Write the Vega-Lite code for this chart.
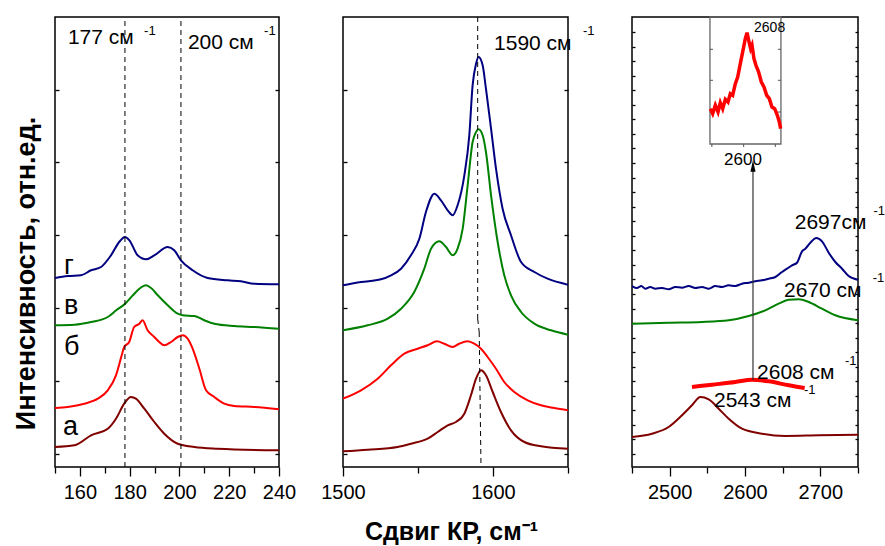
{
"$schema": "https://vega.github.io/schema/vega-lite/v6.json",
"background": "white",
"padding": {"left": 11, "top": 15, "right": 0, "bottom": 0},
"spacing": 64,
"bounds": "flush",
"config": {
 "font": "Liberation Sans",
 "view": {"stroke": "black", "strokeWidth": 1.5},
 "axis": {"domain": false, "grid": false, "tickColor": "black", "tickWidth": 1.3, "labelColor": "black", "labelFontSize": 20, "labelFlush": false, "labelOverlap": false, "titleColor": "black", "labelPadding": 6},
 "text": {"color": "black"}
},
"datasets": {
 "spec": [
  {"p":1,"s":"г","x":150,"y":189},{"p":1,"s":"г","x":155.1,"y":191},{"p":1,"s":"г","x":160.4,"y":191.7},{"p":1,"s":"г","x":164.5,"y":196.7},{"p":1,"s":"г","x":168.5,"y":200},{"p":1,"s":"г","x":172.5,"y":211.7},{"p":1,"s":"г","x":175.8,"y":225},{"p":1,"s":"г","x":178.1,"y":230},{"p":1,"s":"г","x":179.9,"y":226.7},{"p":1,"s":"г","x":183.2,"y":211.7},{"p":1,"s":"г","x":186.6,"y":207.7},{"p":1,"s":"г","x":189.9,"y":211.7},{"p":1,"s":"г","x":195.3,"y":220},{"p":1,"s":"г","x":197.9,"y":216.7},{"p":1,"s":"г","x":200.6,"y":206.7},{"p":1,"s":"г","x":205.3,"y":196.7},{"p":1,"s":"г","x":211.3,"y":189},{"p":1,"s":"г","x":219.4,"y":186.7},{"p":1,"s":"г","x":224.7,"y":185.7},{"p":1,"s":"г","x":230.1,"y":183.3},{"p":1,"s":"г","x":240,"y":182.7},
  {"p":1,"s":"в","x":150,"y":141.7},{"p":1,"s":"в","x":157.8,"y":142.3},{"p":1,"s":"в","x":164.5,"y":145},{"p":1,"s":"в","x":171.2,"y":150},{"p":1,"s":"в","x":174.6,"y":156.7},{"p":1,"s":"в","x":178.2,"y":163.3},{"p":1,"s":"в","x":181.3,"y":171.7},{"p":1,"s":"в","x":183.9,"y":178.3},{"p":1,"s":"в","x":186.6,"y":181.7},{"p":1,"s":"в","x":188.6,"y":179},{"p":1,"s":"в","x":191.3,"y":171.7},{"p":1,"s":"в","x":195.3,"y":161.7},{"p":1,"s":"в","x":199.3,"y":153.3},{"p":1,"s":"в","x":201.3,"y":151.7},{"p":1,"s":"в","x":206,"y":151},{"p":1,"s":"в","x":210,"y":146.7},{"p":1,"s":"в","x":214,"y":143.3},{"p":1,"s":"в","x":222,"y":141},{"p":1,"s":"в","x":230.1,"y":140},{"p":1,"s":"в","x":240,"y":138.3},
  {"p":1,"s":"б","x":150,"y":59},{"p":1,"s":"б","x":155.1,"y":60},{"p":1,"s":"б","x":161.8,"y":63.3},{"p":1,"s":"б","x":167.2,"y":68.3},{"p":1,"s":"б","x":171.2,"y":76.7},{"p":1,"s":"б","x":174.5,"y":91.7},{"p":1,"s":"б","x":176.8,"y":111.7},{"p":1,"s":"б","x":177.8,"y":120},{"p":1,"s":"б","x":179.8,"y":125},{"p":1,"s":"б","x":181.8,"y":140},{"p":1,"s":"б","x":183.9,"y":143.3},{"p":1,"s":"б","x":185.2,"y":146.7},{"p":1,"s":"б","x":187.2,"y":136.7},{"p":1,"s":"б","x":189.9,"y":130},{"p":1,"s":"б","x":191.9,"y":125},{"p":1,"s":"б","x":193.9,"y":121.7},{"p":1,"s":"б","x":196.6,"y":125},{"p":1,"s":"б","x":199.3,"y":130},{"p":1,"s":"б","x":201.3,"y":131.7},{"p":1,"s":"б","x":203.3,"y":128.3},{"p":1,"s":"б","x":205.3,"y":118.3},{"p":1,"s":"б","x":208,"y":98.3},{"p":1,"s":"б","x":210.7,"y":76.7},{"p":1,"s":"б","x":214,"y":70},{"p":1,"s":"б","x":218,"y":63.3},{"p":1,"s":"б","x":222,"y":61},{"p":1,"s":"б","x":230.1,"y":60},{"p":1,"s":"б","x":240,"y":57.7},
  {"p":1,"s":"а","x":150,"y":20},{"p":1,"s":"а","x":157.8,"y":21.7},{"p":1,"s":"а","x":164.5,"y":31.7},{"p":1,"s":"а","x":171.2,"y":38.3},{"p":1,"s":"а","x":174.5,"y":48.3},{"p":1,"s":"а","x":177.8,"y":63.3},{"p":1,"s":"а","x":180.5,"y":70},{"p":1,"s":"а","x":182.5,"y":68.3},{"p":1,"s":"а","x":185.9,"y":58.3},{"p":1,"s":"а","x":189.9,"y":45},{"p":1,"s":"а","x":193.9,"y":33.3},{"p":1,"s":"а","x":199.3,"y":23.3},{"p":1,"s":"а","x":206,"y":20},{"p":1,"s":"а","x":215.4,"y":18.3},{"p":1,"s":"а","x":240,"y":16.7},
  {"p":2,"s":"г","x":1500,"y":181.7},{"p":2,"s":"г","x":1512,"y":185},{"p":2,"s":"г","x":1525.3,"y":187.7},{"p":2,"s":"г","x":1532,"y":191.7},{"p":2,"s":"г","x":1538.7,"y":198.3},{"p":2,"s":"г","x":1545.3,"y":211.7},{"p":2,"s":"г","x":1550.9,"y":228.3},{"p":2,"s":"г","x":1555.3,"y":255},{"p":2,"s":"г","x":1560.9,"y":273.3},{"p":2,"s":"г","x":1565.3,"y":266.7},{"p":2,"s":"г","x":1569.8,"y":256.7},{"p":2,"s":"г","x":1573.1,"y":251.7},{"p":2,"s":"г","x":1576.4,"y":261.7},{"p":2,"s":"г","x":1580.9,"y":291.7},{"p":2,"s":"г","x":1584.2,"y":331.7},{"p":2,"s":"г","x":1586.4,"y":381.7},{"p":2,"s":"г","x":1588.7,"y":403.3},{"p":2,"s":"г","x":1590.4,"y":410},{"p":2,"s":"г","x":1593.1,"y":401.7},{"p":2,"s":"г","x":1595.3,"y":378.3},{"p":2,"s":"г","x":1598.7,"y":338.3},{"p":2,"s":"г","x":1602,"y":298.3},{"p":2,"s":"г","x":1606.4,"y":258.3},{"p":2,"s":"г","x":1612,"y":231.7},{"p":2,"s":"г","x":1618.7,"y":205},{"p":2,"s":"г","x":1627.6,"y":195},{"p":2,"s":"г","x":1636.4,"y":188.3},{"p":2,"s":"г","x":1650,"y":182.3},
  {"p":2,"s":"в","x":1500,"y":136.7},{"p":2,"s":"в","x":1516.4,"y":141.7},{"p":2,"s":"в","x":1529.8,"y":148.3},{"p":2,"s":"в","x":1538.7,"y":158.3},{"p":2,"s":"в","x":1547.5,"y":175},{"p":2,"s":"в","x":1554.2,"y":198.3},{"p":2,"s":"в","x":1558.7,"y":218.3},{"p":2,"s":"в","x":1564.2,"y":225.7},{"p":2,"s":"в","x":1568.7,"y":220},{"p":2,"s":"в","x":1573.1,"y":211.7},{"p":2,"s":"в","x":1576.4,"y":218.3},{"p":2,"s":"в","x":1579.8,"y":238.3},{"p":2,"s":"в","x":1583.1,"y":281.7},{"p":2,"s":"в","x":1586.4,"y":325},{"p":2,"s":"в","x":1588.7,"y":335},{"p":2,"s":"в","x":1590.4,"y":337.7},{"p":2,"s":"в","x":1593.1,"y":331.7},{"p":2,"s":"в","x":1595.3,"y":315},{"p":2,"s":"в","x":1598.7,"y":271.7},{"p":2,"s":"в","x":1603.1,"y":225},{"p":2,"s":"в","x":1607.5,"y":191.7},{"p":2,"s":"в","x":1612,"y":171.7},{"p":2,"s":"в","x":1618.7,"y":155},{"p":2,"s":"в","x":1627.6,"y":143.3},{"p":2,"s":"в","x":1638.7,"y":136.7},{"p":2,"s":"в","x":1650,"y":132.3},
  {"p":2,"s":"б","x":1500,"y":68.3},{"p":2,"s":"б","x":1512,"y":76.7},{"p":2,"s":"б","x":1523.1,"y":88.3},{"p":2,"s":"б","x":1532,"y":101.7},{"p":2,"s":"б","x":1540.9,"y":113.3},{"p":2,"s":"б","x":1549.8,"y":118.3},{"p":2,"s":"б","x":1556.4,"y":121.7},{"p":2,"s":"б","x":1562.7,"y":125.7},{"p":2,"s":"б","x":1567.5,"y":123.3},{"p":2,"s":"б","x":1573.1,"y":120},{"p":2,"s":"б","x":1577.5,"y":123.3},{"p":2,"s":"б","x":1583.1,"y":125.7},{"p":2,"s":"б","x":1587.5,"y":123.3},{"p":2,"s":"б","x":1592,"y":118.3},{"p":2,"s":"б","x":1596.4,"y":110},{"p":2,"s":"б","x":1602,"y":98.3},{"p":2,"s":"б","x":1607.5,"y":85},{"p":2,"s":"б","x":1614.2,"y":75},{"p":2,"s":"б","x":1623.1,"y":66.7},{"p":2,"s":"б","x":1632,"y":61.7},{"p":2,"s":"б","x":1640.9,"y":59},{"p":2,"s":"б","x":1650,"y":56.7},
  {"p":2,"s":"а","x":1500,"y":15.7},{"p":2,"s":"а","x":1516.4,"y":17.3},{"p":2,"s":"а","x":1536.4,"y":20},{"p":2,"s":"а","x":1545.3,"y":23.3},{"p":2,"s":"а","x":1556.4,"y":28.3},{"p":2,"s":"а","x":1563.1,"y":35},{"p":2,"s":"а","x":1569.8,"y":41.7},{"p":2,"s":"а","x":1575.3,"y":45},{"p":2,"s":"а","x":1580.9,"y":53.3},{"p":2,"s":"а","x":1585.3,"y":71.7},{"p":2,"s":"а","x":1588.7,"y":88.3},{"p":2,"s":"а","x":1592,"y":96.7},{"p":2,"s":"а","x":1595.3,"y":91.7},{"p":2,"s":"а","x":1599.8,"y":75},{"p":2,"s":"а","x":1605.3,"y":55},{"p":2,"s":"а","x":1612,"y":36.7},{"p":2,"s":"а","x":1620.9,"y":25},{"p":2,"s":"а","x":1632,"y":20.7},{"p":2,"s":"а","x":1650,"y":18.3},
  {"p":3,"s":"г","x":2450,"y":181},{"p":3,"s":"г","x":2456.6,"y":179},{"p":3,"s":"г","x":2462.4,"y":181},{"p":3,"s":"г","x":2467.7,"y":178.3},{"p":3,"s":"г","x":2474.3,"y":180},{"p":3,"s":"г","x":2481,"y":178.3},{"p":3,"s":"г","x":2489.8,"y":179},{"p":3,"s":"г","x":2498.7,"y":177.7},{"p":3,"s":"г","x":2507.5,"y":180},{"p":3,"s":"г","x":2516.4,"y":179.3},{"p":3,"s":"г","x":2525.2,"y":181},{"p":3,"s":"г","x":2534.1,"y":179},{"p":3,"s":"г","x":2542.9,"y":180},{"p":3,"s":"г","x":2551.8,"y":178.3},{"p":3,"s":"г","x":2560.6,"y":181},{"p":3,"s":"г","x":2569.5,"y":180},{"p":3,"s":"г","x":2578.3,"y":181.7},{"p":3,"s":"г","x":2587.2,"y":181},{"p":3,"s":"г","x":2596,"y":183.3},{"p":3,"s":"г","x":2604.9,"y":184.3},{"p":3,"s":"г","x":2613.7,"y":185.7},{"p":3,"s":"г","x":2622.6,"y":186.7},{"p":3,"s":"г","x":2631.4,"y":188.3},{"p":3,"s":"г","x":2640.3,"y":190},{"p":3,"s":"г","x":2649.1,"y":195},{"p":3,"s":"г","x":2655.7,"y":198.3},{"p":3,"s":"г","x":2662.4,"y":201.7},{"p":3,"s":"г","x":2669,"y":204.3},{"p":3,"s":"г","x":2675.7,"y":215.7},{"p":3,"s":"г","x":2680.1,"y":218.3},{"p":3,"s":"г","x":2686.7,"y":224.3},{"p":3,"s":"г","x":2694.7,"y":229},{"p":3,"s":"г","x":2702.2,"y":225.7},{"p":3,"s":"г","x":2711.1,"y":214.3},{"p":3,"s":"г","x":2719.9,"y":205},{"p":3,"s":"г","x":2728.8,"y":198.3},{"p":3,"s":"г","x":2737.6,"y":191},{"p":3,"s":"г","x":2750,"y":187.3},
  {"p":3,"s":"в","x":2450,"y":143.3},{"p":3,"s":"в","x":2498.7,"y":144.3},{"p":3,"s":"в","x":2542.9,"y":145},{"p":3,"s":"в","x":2578.4,"y":146.7},{"p":3,"s":"в","x":2604.9,"y":151},{"p":3,"s":"в","x":2627,"y":156.7},{"p":3,"s":"в","x":2644.7,"y":163.3},{"p":3,"s":"в","x":2658,"y":167.3},{"p":3,"s":"в","x":2671.3,"y":167.7},{"p":3,"s":"в","x":2684.6,"y":165},{"p":3,"s":"в","x":2702.2,"y":158.3},{"p":3,"s":"в","x":2719.9,"y":151.7},{"p":3,"s":"в","x":2750,"y":146.7},
  {"p":3,"s":"б","x":2529.6,"y":80},{"p":3,"s":"б","x":2556.2,"y":82.3},{"p":3,"s":"б","x":2587.1,"y":85},{"p":3,"s":"б","x":2609.3,"y":87.3},{"p":3,"s":"б","x":2631.5,"y":85.7},{"p":3,"s":"б","x":2658,"y":81.7},{"p":3,"s":"б","x":2679.2,"y":79},
  {"p":3,"s":"а","x":2450,"y":30},{"p":3,"s":"а","x":2476.5,"y":33.3},{"p":3,"s":"а","x":2498.7,"y":40},{"p":3,"s":"а","x":2516.4,"y":51.7},{"p":3,"s":"а","x":2529.6,"y":61.7},{"p":3,"s":"а","x":2540.7,"y":70},{"p":3,"s":"а","x":2551.8,"y":67.7},{"p":3,"s":"а","x":2565.1,"y":58.3},{"p":3,"s":"а","x":2578.4,"y":48.3},{"p":3,"s":"а","x":2596,"y":38.3},{"p":3,"s":"а","x":2622.6,"y":33.3},{"p":3,"s":"а","x":2653.5,"y":31},{"p":3,"s":"а","x":2697.8,"y":31.7},{"p":3,"s":"а","x":2750,"y":32.3}
 ],
 "ins": [
  {"x":2554.0,"y":358.3},{"x":2557.1,"y":353.3},{"x":2560.6,"y":361.7},{"x":2564.2,"y":355},{"x":2567.2,"y":364.3},{"x":2570.4,"y":358.3},{"x":2573.9,"y":367.7},{"x":2577.4,"y":365},{"x":2580.5,"y":373.3},{"x":2583.6,"y":371.7},{"x":2587.2,"y":383.3},{"x":2590.3,"y":390},{"x":2592.5,"y":398.3},{"x":2595.1,"y":408.3},{"x":2597.8,"y":418.3},{"x":2600.4,"y":428.3},{"x":2602.7,"y":434.3},{"x":2604.9,"y":426.7},{"x":2607.5,"y":418.3},{"x":2609.3,"y":421.7},{"x":2611.9,"y":408.3},{"x":2614.6,"y":401.7},{"x":2618.1,"y":395},{"x":2621.7,"y":385},{"x":2625.2,"y":380},{"x":2628.8,"y":371.7},{"x":2632.3,"y":368.3},{"x":2635.8,"y":360},{"x":2639.4,"y":358.3},{"x":2642.9,"y":351.7},{"x":2645.6,"y":345},{"x":2647.3,"y":338.3}
 ],
 "box": [{"x":2553.5,"x2":2647.7,"y":323,"y2":450}],
 "itk": [
  {"x":2553.5,"x2":2557.5,"y":417.7,"y2":417.7},{"x":2553.5,"x2":2557.5,"y":386.7,"y2":386.7},{"x":2553.5,"x2":2557.5,"y":355,"y2":355},
  {"x":2643.7,"x2":2647.7,"y":417.7,"y2":417.7},{"x":2643.7,"x2":2647.7,"y":386.7,"y2":386.7},{"x":2643.7,"x2":2647.7,"y":355,"y2":355},
  {"x":2556,"x2":2556,"y":323,"y2":320},{"x":2598.2,"x2":2598.2,"y":323,"y2":320},{"x":2640.2,"x2":2640.2,"y":323,"y2":320}
 ],
 "rules": [
  {"p":1,"x":178.1,"x2":178.1,"y":0,"y2":450},
  {"p":1,"x":200.6,"x2":200.6,"y":0,"y2":450},
  {"p":2,"x":1589.8,"x2":1589.8,"y":148,"y2":450},
  {"p":2,"x":1589.8,"x2":1590.8,"y":148,"y2":135},
  {"p":2,"x":1590.8,"x2":1592,"y":135,"y2":0}
 ],
 "arrow": [{"x":2610.6,"x2":2610.6,"y":87,"y2":297}],
 "head": [{"x":2610.6,"y":301}],
 "txt": [
  {"p":1,"g":"m","x":155.2,"y":423,"t":"177 см"},
  {"p":1,"g":"m","x":203.4,"y":418,"t":"200 см"},
  {"p":2,"g":"m","x":1600.7,"y":417,"t":"1590 см"},
  {"p":3,"g":"m","x":2666,"y":238,"t":"2697см"},
  {"p":3,"g":"m","x":2651.8,"y":170,"t":"2670 см"},
  {"p":3,"g":"m","x":2616,"y":88,"t":"2608 см"},
  {"p":3,"g":"m","x":2558.8,"y":60,"t":"2543 см"},
  {"p":1,"g":"s","x":185.8,"y":432,"t":"-1"},
  {"p":1,"g":"s","x":234,"y":432,"t":"-1"},
  {"p":2,"g":"s","x":1660,"y":432,"t":"-1"},
  {"p":3,"g":"s","x":2770.5,"y":252,"t":"-1"},
  {"p":3,"g":"s","x":2769.5,"y":185,"t":"-1"},
  {"p":3,"g":"s","x":2732.7,"y":102,"t":"-1"},
  {"p":3,"g":"s","x":2678.3,"y":73,"t":"-1"},
  {"p":1,"g":"l","x":153.6,"y":193,"t":"г"},
  {"p":1,"g":"l","x":153.6,"y":153,"t":"в"},
  {"p":1,"g":"l","x":153.6,"y":112,"t":"б"},
  {"p":1,"g":"l","x":153.2,"y":32,"t":"а"},
  {"p":3,"g":"i1","x":2597.3,"y":302,"t":"2600"},
  {"p":3,"g":"i2","x":2612,"y":435,"t":"2608"}
 ]
},
"hconcat": [
 {
  "width": 224, "height": 450,
  "encoding": {
   "x": {"field": "x", "type": "quantitative", "scale": {"domain": [150, 240], "nice": false, "zero": false}, "axis": null},
   "y": {"field": "y", "type": "quantitative", "scale": {"domain": [0, 450], "nice": false, "zero": false}, "axis": null}
  },
  "layer": [
   {"data": {"name": "spec"}, "transform": [{"filter": "datum.p == 1"}],
    "mark": {"type": "line", "strokeWidth": 2, "interpolate": "monotone", "clip": true},
    "encoding": {
     "x": {"field": "x", "type": "quantitative", "scale": {"domain": [150, 240], "nice": false, "zero": false},
      "axis": {"orient": "bottom", "values": [160,180,200,220,240], "format": "d", "title": null, "tickSize": 9}},
     "y": {"field": "y", "type": "quantitative", "scale": {"domain": [0, 450], "nice": false, "zero": false},
      "axis": {"values": [13,86,159,232,305,377], "labels": false, "tickSize": -4,
       "title": "Интенсивность, отн.ед.", "titleFontSize": 27, "titleFontWeight": "bold",
       "titleAngle": -90, "titleX": -21, "titleY": 256, "titleAlign": "center", "titleBaseline": "alphabetic"}},
     "color": {"field": "s", "type": "nominal", "scale": {"domain": ["а","б","в","г"], "range": ["#800000","#ff0000","#008000","#000080"]}, "legend": null}
    }},
   {"data": {"name": "rules"}, "transform": [{"filter": "datum.p == 1"}],
    "mark": {"type": "rule", "strokeDash": [5, 4], "color": "black", "strokeWidth": 1},
    "encoding": {
     "x": {"field": "x", "type": "quantitative", "scale": {"domain": [150, 240], "nice": false, "zero": false},
      "axis": {"orient": "bottom", "values": [150,170,190,210,230], "labels": false, "title": null, "tickSize": 6}},
     "y": {"field": "y", "type": "quantitative", "scale": {"domain": [0, 450], "nice": false, "zero": false},
      "axis": {"orient": "right", "values": [13,86,159,232,305,377], "labels": false, "tickSize": -4, "title": null}},
     "x2": {"field": "x2"}, "y2": {"field": "y2"}
    }},
   {"data": {"name": "txt"}, "transform": [{"filter": "datum.p == 1 && datum.g == 'm'"}],
    "mark": {"type": "text", "fontSize": 21, "align": "left", "baseline": "alphabetic"},
    "encoding": {"text": {"field": "t"}}},
   {"data": {"name": "txt"}, "transform": [{"filter": "datum.p == 1 && datum.g == 's'"}],
    "mark": {"type": "text", "fontSize": 13, "align": "left", "baseline": "alphabetic"},
    "encoding": {"text": {"field": "t"}}},
   {"data": {"name": "txt"}, "transform": [{"filter": "datum.p == 1 && datum.g == 'l'"}],
    "mark": {"type": "text", "fontSize": 27, "align": "left", "baseline": "alphabetic"},
    "encoding": {"text": {"field": "t"}}}
  ],
  "resolve": {"axis": {"x": "independent", "y": "independent"}}
 },
 {
  "width": 225, "height": 450,
  "encoding": {
   "x": {"field": "x", "type": "quantitative", "scale": {"domain": [1500, 1650], "nice": false, "zero": false}, "axis": null},
   "y": {"field": "y", "type": "quantitative", "scale": {"domain": [0, 450], "nice": false, "zero": false}, "axis": null}
  },
  "layer": [
   {"data": {"name": "spec"}, "transform": [{"filter": "datum.p == 2"}],
    "mark": {"type": "line", "strokeWidth": 2, "interpolate": "monotone", "clip": true},
    "encoding": {
     "x": {"field": "x", "type": "quantitative", "scale": {"domain": [1500, 1650], "nice": false, "zero": false},
      "axis": {"orient": "bottom", "values": [1500,1600], "format": "d", "tickSize": 9,
       "title": "Сдвиг КР, см⁻¹", "titleFontSize": 25, "titleFontWeight": "bold",
       "titleX": 108, "titleY": 72, "titleAlign": "center", "titleBaseline": "alphabetic"}},
     "y": {"field": "y", "type": "quantitative", "scale": {"domain": [0, 450], "nice": false, "zero": false},
      "axis": {"values": [13,86,159,232,305,377], "labels": false, "tickSize": -4, "title": null}},
     "color": {"field": "s", "type": "nominal", "scale": {"domain": ["а","б","в","г"], "range": ["#800000","#ff0000","#008000","#000080"]}, "legend": null}
    }},
   {"data": {"name": "rules"}, "transform": [{"filter": "datum.p == 2"}],
    "mark": {"type": "rule", "strokeDash": [5, 4], "color": "black", "strokeWidth": 1},
    "encoding": {
     "x": {"field": "x", "type": "quantitative", "scale": {"domain": [1500, 1650], "nice": false, "zero": false},
      "axis": {"orient": "bottom", "values": [1550,1650], "labels": false, "title": null, "tickSize": 6}},
     "y": {"field": "y", "type": "quantitative", "scale": {"domain": [0, 450], "nice": false, "zero": false},
      "axis": {"orient": "right", "values": [13,86,159,232,305,377], "labels": false, "tickSize": -4, "title": null}},
     "x2": {"field": "x2"}, "y2": {"field": "y2"}
    }},
   {"data": {"name": "txt"}, "transform": [{"filter": "datum.p == 2 && datum.g == 'm'"}],
    "mark": {"type": "text", "fontSize": 21, "align": "left", "baseline": "alphabetic"},
    "encoding": {"text": {"field": "t"}}},
   {"data": {"name": "txt"}, "transform": [{"filter": "datum.p == 2 && datum.g == 's'"}],
    "mark": {"type": "text", "fontSize": 13, "align": "left", "baseline": "alphabetic"},
    "encoding": {"text": {"field": "t"}}}
  ],
  "resolve": {"axis": {"x": "independent", "y": "independent"}}
 },
 {
  "width": 226, "height": 450,
  "encoding": {
   "x": {"field": "x", "type": "quantitative", "scale": {"domain": [2450, 2750], "nice": false, "zero": false}, "axis": null},
   "y": {"field": "y", "type": "quantitative", "scale": {"domain": [0, 450], "nice": false, "zero": false}, "axis": null}
  },
  "layer": [
   {"data": {"name": "spec"}, "transform": [{"filter": "datum.p == 3 && datum.s != 'б'"}],
    "mark": {"type": "line", "strokeWidth": 2, "interpolate": "monotone", "clip": true},
    "encoding": {
     "x": {"field": "x", "type": "quantitative", "scale": {"domain": [2450, 2750], "nice": false, "zero": false},
      "axis": {"orient": "bottom", "values": [2500,2600,2700], "format": "d", "title": null, "tickSize": 9}},
     "y": {"field": "y", "type": "quantitative", "scale": {"domain": [0, 450], "nice": false, "zero": false},
      "axis": {"values": [13,27.55,42.1,56.65,71.2,85.75,100.3,114.85,129.4,143.95,158.5,173.05,187.6,202.15,216.7,231.25,245.8,260.35,274.9,289.45,304,318.55,333.1,347.65,362.2,376.75,391.3,405.85,420.4,434.95], "labels": false, "tickSize": -3, "title": null}},
     "color": {"field": "s", "type": "nominal", "scale": {"domain": ["а","б","в","г"], "range": ["#800000","#ff0000","#008000","#000080"]}, "legend": null}
    }},
   {"data": {"name": "spec"}, "transform": [{"filter": "datum.p == 3 && datum.s == 'б'"}],
    "mark": {"type": "line", "strokeWidth": 4, "interpolate": "monotone", "color": "#ff0000"},
    "encoding": {}},
   {"data": {"name": "box"},
    "mark": {"type": "rect", "fill": "white", "fillOpacity": 0, "stroke": "#666666", "strokeWidth": 1.3},
    "encoding": {"x2": {"field": "x2"}, "y2": {"field": "y2"}}},
   {"data": {"name": "itk"},
    "mark": {"type": "rule", "color": "#555555", "strokeWidth": 1},
    "encoding": {"x2": {"field": "x2"}, "y2": {"field": "y2"}}},
   {"data": {"name": "ins"},
    "mark": {"type": "line", "strokeWidth": 3.5, "color": "#ff0000"},
    "encoding": {}},
   {"data": {"name": "arrow"},
    "mark": {"type": "rule", "color": "#333333", "strokeWidth": 1.2},
    "encoding": {
     "x": {"field": "x", "type": "quantitative", "scale": {"domain": [2450, 2750], "nice": false, "zero": false},
      "axis": {"orient": "bottom", "values": [2450,2550,2650,2750], "labels": false, "title": null, "tickSize": 6}},
     "y": {"field": "y", "type": "quantitative", "scale": {"domain": [0, 450], "nice": false, "zero": false},
      "axis": {"orient": "right", "values": [13,27.55,42.1,56.65,71.2,85.75,100.3,114.85,129.4,143.95,158.5,173.05,187.6,202.15,216.7,231.25,245.8,260.35,274.9,289.45,304,318.55,333.1,347.65,362.2,376.75,391.3,405.85,420.4,434.95], "labels": false, "tickSize": -3, "title": null}},
     "x2": {"field": "x2"}, "y2": {"field": "y2"}
    }},
   {"data": {"name": "head"},
    "mark": {"type": "point", "shape": "M0,-1L0.45,1L-0.45,1Z", "filled": true, "color": "black", "opacity": 1, "size": 130},
    "encoding": {}},
   {"data": {"name": "txt"}, "transform": [{"filter": "datum.p == 3 && datum.g == 'm'"}],
    "mark": {"type": "text", "fontSize": 21, "align": "left", "baseline": "alphabetic"},
    "encoding": {"text": {"field": "t"}}},
   {"data": {"name": "txt"}, "transform": [{"filter": "datum.p == 3 && datum.g == 's'"}],
    "mark": {"type": "text", "fontSize": 13, "align": "left", "baseline": "alphabetic"},
    "encoding": {"text": {"field": "t"}}},
   {"data": {"name": "txt"}, "transform": [{"filter": "datum.g == 'i1'"}],
    "mark": {"type": "text", "fontSize": 17, "align": "center", "baseline": "alphabetic"},
    "encoding": {"text": {"field": "t"}}},
   {"data": {"name": "txt"}, "transform": [{"filter": "datum.g == 'i2'"}],
    "mark": {"type": "text", "fontSize": 14, "align": "left", "baseline": "alphabetic"},
    "encoding": {"text": {"field": "t"}}}
  ],
  "resolve": {"axis": {"x": "independent", "y": "independent"}}
 }
]
}
